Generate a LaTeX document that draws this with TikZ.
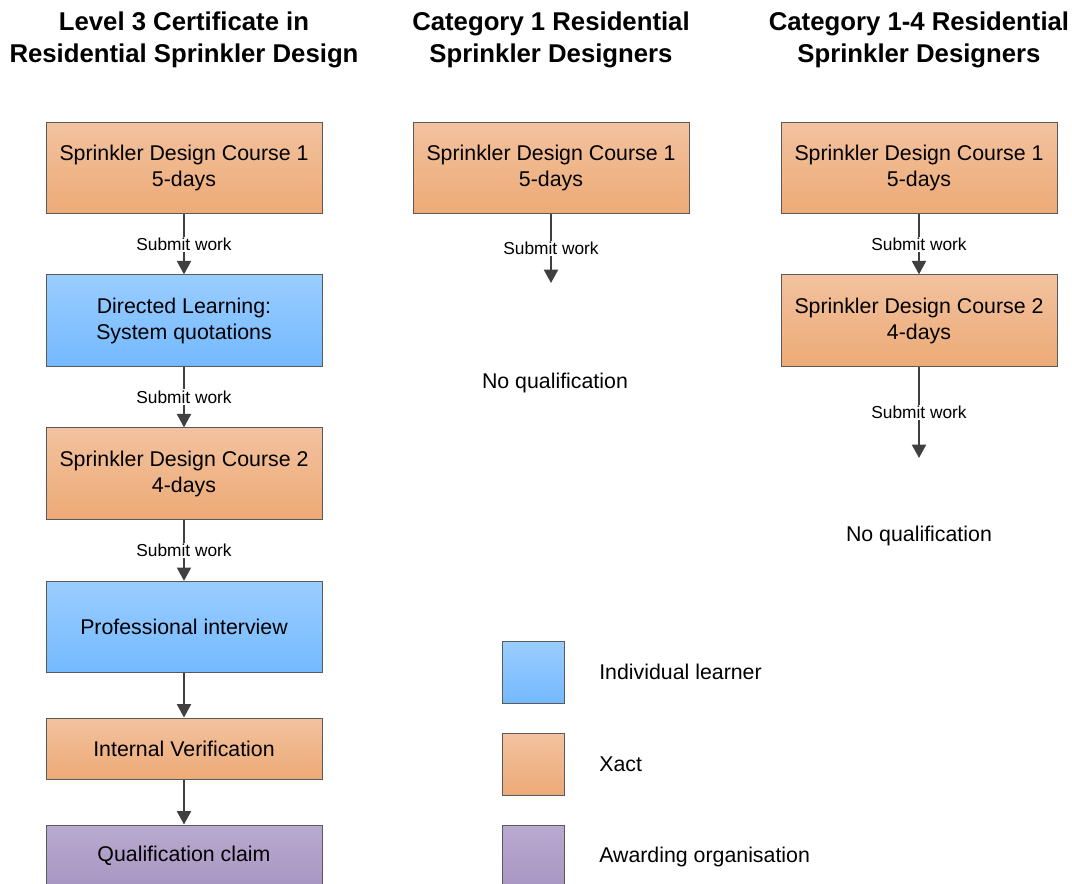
\documentclass[tikz,border=0pt]{standalone}
\usepackage{fontspec}
\setmainfont{Liberation Sans}
\usetikzlibrary{arrows.meta,positioning}
\definecolor{xacttop}{HTML}{F2C29F}
\definecolor{xactbot}{HTML}{EDAA76}
\definecolor{learntop}{HTML}{9ACDFF}
\definecolor{learnbot}{HTML}{74B9FF}
\definecolor{awardtop}{HTML}{B9AAD0}
\definecolor{awardbot}{HTML}{A796C2}
\definecolor{edge}{HTML}{5A5A5A}
\definecolor{arrowgray}{HTML}{404040}

\begin{document}
\begin{tikzpicture}[x=0.75pt, y=-0.75pt,
    box/.style={draw=edge, line width=0.75pt, minimum width=207pt, align=center, inner sep=0pt,
        font=\fontsize{16}{19.5}\selectfont},
    tall/.style={box, minimum height=68.5pt},
    short/.style={box, minimum height=45.75pt},
    xact/.style={top color=xacttop, bottom color=xactbot},
    learner/.style={top color=learntop, bottom color=learnbot},
    awarding/.style={top color=awardtop, bottom color=awardbot},
    keybox/.style={draw=edge, line width=0.75pt, minimum size=46.5pt, inner sep=0pt},
    keytext/.style={anchor=west, inner sep=0pt, font=\fontsize{16}{19.5}\selectfont},
    title/.style={align=center, font=\fontsize{19.3}{24}\selectfont\bfseries},
    arr/.style={draw=arrowgray, line width=1.5pt, -{Triangle[width=10.5pt,length=10pt]}},
    lbl/.style={fill=white, inner sep=1pt, font=\fontsize{13}{15}\selectfont},
    plain/.style={font=\fontsize{16}{19.5}\selectfont}]
    \useasboundingbox (0,0) rectangle (1072,884);

    % Column headings
    \node[title] (head1) at (184,39.5) {Level 3 Certificate in\\Residential Sprinkler Design};
    \node[title] (head2) at (551,39.5) {Category 1 Residential\\Sprinkler Designers};
    \node[title] (head3) at (919,39.5) {Category 1-4 Residential\\Sprinkler Designers};

    % Level 3 certificate route
    \node[tall, xact] (l3course1) at (184,168) {Sprinkler Design Course 1\\5-days};
    \node[tall, learner] (l3quote) at (184,320.5) {Directed Learning:\\System quotations};
    \node[tall, xact] (l3course2) at (184,473.5) {Sprinkler Design Course 2\\4-days};
    \node[tall, learner] (l3interview) at (184,627) {Professional interview};
    \node[short, xact] (l3verify) at (184,748.5) {Internal Verification};
    \node[short, awarding] (l3claim) at (184,855.5) {Qualification claim};

    \draw[arr] (l3course1) -- node[lbl] {Submit work} (l3quote);
    \draw[arr] (l3quote) -- node[lbl] {Submit work} (l3course2);
    \draw[arr] (l3course2) -- node[lbl] {Submit work} (l3interview);
    \draw[arr] (l3interview) -- (l3verify);
    \draw[arr] (l3verify) -- (l3claim);

    % Category 1 route
    \node[tall, xact] (c1course1) at (551,168) {Sprinkler Design Course 1\\5-days};
    \coordinate (c1end) at (551,283);
    \draw[arr] (c1course1) -- node[lbl] {Submit work} (c1end);
    \node[plain] (c1none) at (555,383) {No qualification};

    % Category 1-4 route
    \node[tall, xact] (c4course1) at (919,168) {Sprinkler Design Course 1\\5-days};
    \node[tall, xact] (c4course2) at (919,320.5) {Sprinkler Design Course 2\\4-days};
    \coordinate (c4end) at (919,458);
    \draw[arr] (c4course1) -- node[lbl] {Submit work} (c4course2);
    \draw[arr] (c4course2) -- node[lbl] {Submit work} (c4end);
    \node[plain] (c4none) at (919,536) {No qualification};

    % Key
    \node[keybox, learner] (keylearn) at (533,672) {};
    \node[keybox, xact] (keyxact) at (533,764) {};
    \node[keybox, awarding] (keyaward) at (533,856) {};
    \node[keytext] (keylearntxt) at (599,672) {Individual learner};
    \node[keytext] (keyxacttxt) at (599,764) {Xact};
    \node[keytext] (keyawardtxt) at (599,857) {Awarding organisation};
\end{tikzpicture}
\end{document}
